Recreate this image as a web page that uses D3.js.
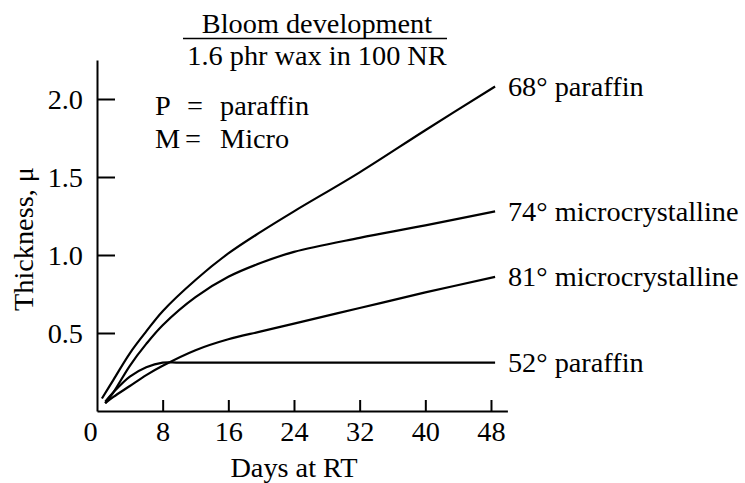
<!DOCTYPE html>
<html>
<head>
<meta charset="utf-8">
<script src="https://cdn.jsdelivr.net/npm/d3@7"></script>
<style>
  body { margin: 0; background: #fff; }
  svg { display: block; }
  text { font-family: "Liberation Serif", "Times New Roman", serif; fill: #000; }
</style>
</head>
<body>
<svg id="chart" width="745" height="483"></svg>
<script>
// data (days at RT vs. bloom thickness, microns)
const days68 = [0.6, 2, 4, 6, 8, 12, 16, 20, 24, 32, 40, 48.5]
const vals68 = [0.08, 0.20, 0.37, 0.51, 0.64, 0.84, 1.01, 1.15, 1.28, 1.53, 1.80, 2.08]
const days74 = [1, 2, 4, 6, 8, 12, 16, 20, 24, 32, 40, 48.5]
const vals74 = [0.05, 0.12, 0.29, 0.43, 0.55, 0.73, 0.86, 0.95, 1.02, 1.11, 1.19, 1.28]
const days81 = [1, 2, 4, 6, 8, 12, 16, 20, 24, 32, 40, 48.5]
const vals81 = [0.05, 0.09, 0.16, 0.23, 0.29, 0.39, 0.46, 0.51, 0.56, 0.66, 0.76, 0.86]
const days52 = [1, 2, 4, 6, 8, 10, 16, 24, 32, 40, 48.5]
const vals52 = [0.06, 0.12, 0.22, 0.28, 0.31, 0.31, 0.31, 0.31, 0.31, 0.31, 0.31]
const seriesNames = ["68° paraffin", "74° microcrystalline", "81° microcrystalline", "52° paraffin"]

const xTicks = [0, 8, 16, 24, 32, 40, 48]
const yTicks = [0.5, 1.0, 1.5, 2.0]
const titleLines = ["Bloom development", "1.6 phr wax in 100 NR"]
const legendKeys = ["P", "M"]
const legendVals = ["paraffin", "Micro"]

const FONT = 28.3
var svg = d3.select("#chart")

var x = d3.scaleLinear().domain([0, 50]).range([97, 507.4])
var y = d3.scaleLinear().domain([0, 2.25]).range([411, 60])

var series = [
    { name: seriesNames[0], days: days68, vals: vals68 },
    { name: seriesNames[1], days: days74, vals: vals74 },
    { name: seriesNames[2], days: days81, vals: vals81 },
    { name: seriesNames[3], days: days52, vals: vals52 }
]
series.forEach(s => { s.pts = s.days.map((d, i) => [d, s.vals[i]]) })

// axes, ticks pointing inward like the original plot
var xAxis = svg.append("g")
    .attr("transform", "translate(0," + y(0) + ")")
    .call(d3.axisBottom(x).tickValues(xTicks).tickSizeInner(-11).tickSizeOuter(0)
        .tickPadding(10).tickFormat(d3.format("d")))
var yAxis = svg.append("g")
    .attr("transform", "translate(" + x(0) + ",0)")
    .call(d3.axisLeft(y).tickValues(yTicks).tickSizeInner(-18).tickSizeOuter(0)
        .tickPadding(14).tickFormat(d3.format(".1f")))

svg.selectAll(".domain, .tick line")
    .attr("stroke", "#000")
    .attr("stroke-width", 2)
svg.selectAll(".tick text")
    .attr("font-size", FONT)
    .attr("font-family", "Liberation Serif")
// the 0 label sits a little left of the origin
xAxis.selectAll(".tick text").filter(d => d === 0).attr("dx", -7)
xAxis.selectAll(".tick line").filter(d => d === 0).remove()

// axis titles
svg.append("text")
    .attr("x", (x(0) + x(48)) / 2)
    .attr("y", 477)
    .attr("text-anchor", "middle")
    .attr("font-size", FONT)
    .text("Days at RT")
svg.append("text")
    .attr("transform", "translate(33,239) rotate(-90)")
    .attr("text-anchor", "middle")
    .attr("font-size", FONT)
    .text("Thickness, μ")

// curves
var line = d3.line()
    .x(d => x(d[0]))
    .y(d => y(d[1]))
    .curve(d3.curveCatmullRom.alpha(0.5))
svg.append("g").selectAll("path")
    .data(series).enter().append("path")
    .attr("d", d => line(d.pts))
    .attr("fill", "none")
    .attr("stroke", "#000")
    .attr("stroke-width", 2.2)

// labels at the end of each curve
svg.append("g").selectAll("text")
    .data(series).enter().append("text")
    .attr("x", x(48) + 17)
    .attr("y", d => y(d.vals[d.vals.length - 1]))
    .attr("dy", "0.33em")
    .attr("font-size", FONT)
    .text(d => d.name)

// title block with the underline
var tcx = 317
svg.append("text")
    .attr("x", tcx).attr("y", 33)
    .attr("text-anchor", "middle")
    .attr("font-size", FONT)
    .text(titleLines[0])
svg.append("line")
    .attr("x1", 183).attr("x2", 447)
    .attr("y1", 38.5).attr("y2", 38.5)
    .attr("stroke", "#000")
    .attr("stroke-width", 1.5)
svg.append("text")
    .attr("x", tcx).attr("y", 65)
    .attr("text-anchor", "middle")
    .attr("font-size", FONT)
    .text(titleLines[1])

// P = paraffin, M = Micro
var leg = svg.append("g").selectAll("g")
    .data(legendKeys).enter().append("g")
    .attr("transform", (d, i) => "translate(155," + (115 + i * 33) + ")")
leg.append("text").attr("font-size", FONT).text(d => d)
leg.append("text").attr("x", (d, i) => i === 0 ? 32 : 30).attr("font-size", FONT).text("=")
leg.append("text").attr("x", 65).attr("font-size", FONT).text((d, i) => legendVals[i])
</script>
</body>
</html>
